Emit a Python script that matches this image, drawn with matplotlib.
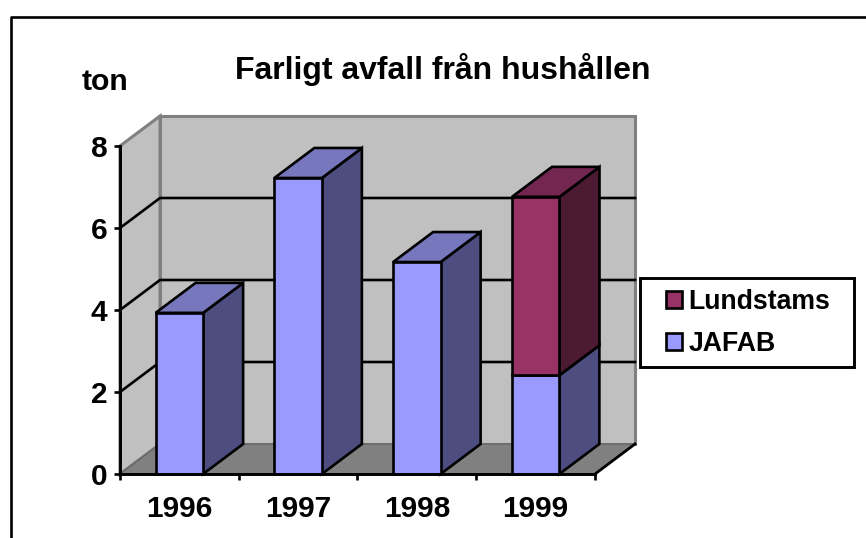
import matplotlib
matplotlib.use('Agg')
import matplotlib.pyplot as plt
from matplotlib.patches import Polygon, Patch, Rectangle
from matplotlib.lines import Line2D

years = ['1996', '1997', '1998', '1999']
jafab = [3.93, 7.22, 5.17, 2.41]
lundstams = [0, 0, 0, 4.35]
y_ticks = [0, 2, 4, 6, 8]

W, H = 866, 538
plt.rcParams['font.family'] = ['Liberation Sans', 'DejaVu Sans']
plt.rcParams['font.weight'] = 'bold'

fig = plt.figure(figsize=(W / 100, H / 100), dpi=100)
# front plane of the 3D box, in pixels: x 120-595, y 146-474
ax = fig.add_axes([120 / W, 1 - 474 / H, 475 / W, 328 / H])
ax.set_xlim(0, 4)
ax.set_ylim(0, 8)
ax.patch.set_alpha(0)

# depth of the box in data units (40 px right, 30 px up)
dx = 40 / (475 / 4)
dy = 30 / (328 / 8)
lw = 1.9


def poly(pts, fc, ec='black', z=3, w=lw):
    ax.add_patch(Polygon(pts, closed=True, facecolor=fc, edgecolor=ec, linewidth=w,
                         joinstyle='miter', clip_on=False, zorder=z))


def line(xs, ys, c='black', z=2, w=lw):
    ax.add_line(Line2D(xs, ys, color=c, linewidth=w, clip_on=False, zorder=z))


# walls
poly([(dx, dy), (4 + dx, dy), (4 + dx, 8 + dy), (dx, 8 + dy)], '#C0C0C0', '#808080', 1, 2.2)
poly([(0, 0), (dx, dy), (dx, 8 + dy), (0, 8)], '#C0C0C0', '#808080', 1, 2.2)

# gridlines
for t in y_ticks[1:-1]:
    line([0, dx, 4 + dx], [t, t + dy, t + dy])

# floor
poly([(0, 0), (4, 0), (4 + dx, dy), (dx, dy)], '#808080', '#666666', 2, 1)
line([4, 4 + dx], [0, dy], z=2.5, w=2)


def bar(i, y0, h, front, side, top):
    x0, x1 = i + 0.3, i + 0.7
    y1 = y0 + h
    poly([(x1, y0), (x1 + dx, y0 + dy), (x1 + dx, y1 + dy), (x1, y1)], side, z=3 + i)
    poly([(x0, y1), (x1, y1), (x1 + dx, y1 + dy), (x0 + dx, y1 + dy)], top, z=3 + i)
    poly([(x0, y0), (x1, y0), (x1, y1), (x0, y1)], front, z=3 + i)


for i in range(len(years)):
    bar(i, 0, jafab[i], '#9999FF', '#4D4D80', '#7777BD')
    if lundstams[i] > 0:
        bar(i + 0.001, jafab[i], lundstams[i], '#993366', '#4D1A33', '#732650')

for s in ['top', 'right']:
    ax.spines[s].set_visible(False)
for s in ['left', 'bottom']:
    ax.spines[s].set_linewidth(2.1)
    ax.spines[s].set_zorder(10)

ax.set_yticks(y_ticks)
ax.set_xticks(range(5))
ax.set_xticklabels([])
ax.set_xticks([i + 0.5 for i in range(4)], minor=True)
ax.set_xticklabels(years, minor=True, fontsize=21.5)
ax.tick_params(axis='x', which='minor', length=0, pad=15)
ax.tick_params(axis='x', which='major', length=4, width=lw)
ax.tick_params(axis='y', length=4, width=lw, labelsize=21.5, pad=5)

fig.text(443 / W, 1 - 69.5 / H, 'Farligt avfall från hushållen', fontsize=23, ha='center', va='center')
fig.text(105 / W, 1 - 82 / H, 'ton', fontsize=21.8, ha='center', va='center')

# legend box, the padding differs between x and y so it is drawn apart
fig.add_artist(Rectangle((640 / W, 1 - 367 / H), 214 / W, 89 / H, transform=fig.transFigure,
                         facecolor='white', edgecolor='black', linewidth=2.1, zorder=5))
handles = [Patch(facecolor='#993366', edgecolor='black', linewidth=lw),
           Patch(facecolor='#9999FF', edgecolor='black', linewidth=lw)]
leg = fig.legend(handles, ['Lundstams', 'JAFAB'], loc='center left',
                 bbox_to_anchor=(666 / W, 1 - 323 / H), fontsize=19.2, frameon=False,
                 handlelength=0.6, handleheight=0.6, handletextpad=0.25, labelspacing=0.62,
                 borderpad=0, borderaxespad=0)
leg.set_zorder(6)

# chart border, only top and left fall inside the picture
fig.add_artist(Line2D([10.5 / W, 10.5 / W, 1], [0, 1 - 17 / H, 1 - 17 / H], color='black', linewidth=1.9))

fig.savefig('out.png', dpi=100)
